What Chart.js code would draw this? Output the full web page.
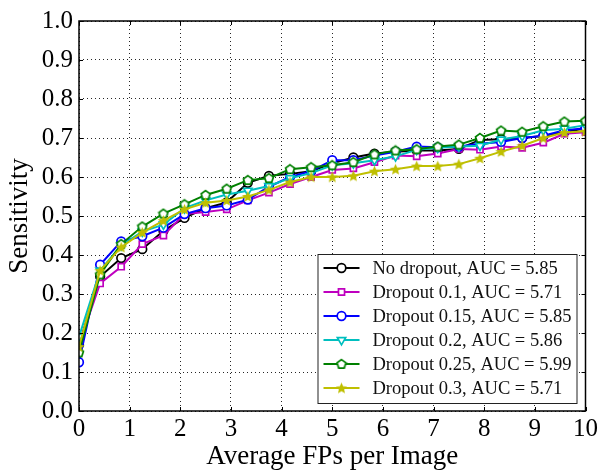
<!DOCTYPE html>
<html>
<head>
<meta charset="utf-8">
<script src="https://cdn.jsdelivr.net/npm/chart.js@4.4.0/dist/chart.umd.min.js"></script>
<style>
  html, body { margin: 0; padding: 0; background: #fff; }
</style>
</head>
<body>
<canvas id="myChart" width="601" height="473"></canvas>
<script>
'use strict';

// average FPs per image (x)
const fpsPerImage = [ 0, 0.417, 0.833, 1.25, 1.667, 2.083, 2.5, 2.917, 3.333, 3.75, 4.167, 4.583, 5,
  5.417, 5.833, 6.25, 6.667, 7.083, 7.5, 7.917, 8.333, 8.75, 9.167, 9.583, 10 ];

const noDropout = [ 0.17, 0.345, 0.392, 0.415, 0.462, 0.495, 0.52, 0.535, 0.585, 0.603, 0.608, 0.615, 0.635,
  0.65, 0.66, 0.665, 0.668, 0.668, 0.672, 0.695, 0.697, 0.70, 0.705, 0.715, 0.725 ];
const dropout01 = [ 0.17, 0.327, 0.37, 0.428, 0.45, 0.505, 0.51, 0.517, 0.54, 0.56, 0.582, 0.60, 0.618,
  0.622, 0.638, 0.655, 0.653, 0.66, 0.672, 0.67, 0.678, 0.675, 0.688, 0.711, 0.715 ];
const dropout015 = [ 0.125, 0.375, 0.435, 0.448, 0.47, 0.505, 0.52, 0.527, 0.542, 0.575, 0.60, 0.615, 0.643,
  0.643, 0.655, 0.665, 0.678, 0.676, 0.678, 0.685, 0.69, 0.70, 0.706, 0.72, 0.725 ];
const dropout02 = [ 0.19, 0.36, 0.425, 0.46, 0.478, 0.52, 0.54, 0.555, 0.565, 0.577, 0.597, 0.61, 0.63,
  0.635, 0.643, 0.653, 0.67, 0.675, 0.678, 0.68, 0.696, 0.705, 0.72, 0.724, 0.733 ];
const dropout025 = [ 0.15, 0.35, 0.428, 0.473, 0.506, 0.53, 0.554, 0.57, 0.592, 0.597, 0.62, 0.625, 0.63,
  0.638, 0.658, 0.668, 0.671, 0.678, 0.683, 0.70, 0.719, 0.716, 0.73, 0.742, 0.744 ];
const dropout03 = [ 0.165, 0.36, 0.42, 0.458, 0.488, 0.517, 0.534, 0.54, 0.55, 0.567, 0.587, 0.60, 0.60,
  0.603, 0.615, 0.62, 0.628, 0.628, 0.633, 0.648, 0.665, 0.68, 0.70, 0.714, 0.717 ];

const seriesLabels = [
  'No dropout, AUC = 5.85',
  'Dropout 0.1, AUC = 5.71',
  'Dropout 0.15, AUC = 5.85',
  'Dropout 0.2, AUC = 5.86',
  'Dropout 0.25, AUC = 5.99',
  'Dropout 0.3, AUC = 5.71'
];

const yTicks = [ 0, 0.1, 0.2, 0.3, 0.4, 0.5, 0.6, 0.7, 0.8, 0.9, 1.0 ];
const xTicks = [ 0, 1, 2, 3, 4, 5, 6, 7, 8, 9, 10 ];

// small canvases for markers chart.js does not have
function makePentagon( color ) {
  const c = document.createElement( 'canvas' );
  c.width = 12; c.height = 12;
  const g = c.getContext( '2d' );
  g.beginPath();
  for ( let i = 0; i < 5; i++ ) {
    const a = -Math.PI / 2 + i * 2 * Math.PI / 5;
    const px = 6 + 4.7 * Math.cos( a );
    const py = 6.3 + 4.7 * Math.sin( a );
    if ( i === 0 ) g.moveTo( px, py ); else g.lineTo( px, py );
  }
  g.closePath();
  g.fillStyle = '#fff';
  g.fill();
  g.lineWidth = 1.7;
  g.strokeStyle = color;
  g.stroke();
  return c;
}

function makeStar( color ) {
  const c = document.createElement( 'canvas' );
  c.width = 13; c.height = 13;
  const g = c.getContext( '2d' );
  g.beginPath();
  for ( let i = 0; i < 10; i++ ) {
    const r = i % 2 === 0 ? 6 : 2.7;
    const a = -Math.PI / 2 + i * Math.PI / 5;
    const px = 6.5 + r * Math.cos( a );
    const py = 7 + r * Math.sin( a );
    if ( i === 0 ) g.moveTo( px, py ); else g.lineTo( px, py );
  }
  g.closePath();
  g.fillStyle = color;
  g.fill();
  return c;
}

function toPoints( ys ) {
  return ys.map( ( y, i ) => ( { x: fpsPerImage[i], y: y } ) );
}

const black = '#000000';
const magenta = '#bf00bf';
const blue = '#0000ff';
const cyan = '#00bfbf';
const green = '#008000';
const yellow = '#bfbf00';

function series( label, ys, color, style, order, extra ) {
  return Object.assign( {
    label: label,
    data: toPoints( ys ),
    borderColor: color,
    backgroundColor: '#ffffff',
    pointBorderColor: color,
    pointBackgroundColor: '#ffffff',
    borderWidth: 2,
    pointStyle: style,
    pointRadius: 4.3,
    pointBorderWidth: 1.7,
    tension: 0,
    order: order
  }, extra || {} );
}

const datasets = [
  series( seriesLabels[0], noDropout, black, 'circle', 6 ),
  series( seriesLabels[1], dropout01, magenta, 'rect', 5 ),
  series( seriesLabels[2], dropout015, blue, 'circle', 4 ),
  series( seriesLabels[3], dropout02, cyan, 'triangle', 3, { pointRotation: 180, pointRadius: 4.8 } ),
  series( seriesLabels[4], dropout025, green, makePentagon( green ), 2 ),
  series( seriesLabels[5], dropout03, yellow, makeStar( yellow ), 1 )
];

// frame around the plot and inward ticks like matplotlib
const framePlugin = {
  id: 'frame',
  afterDraw( chart ) {
    const ctx = chart.ctx;
    const a = chart.chartArea;
    const xs = chart.scales.x;
    const ys = chart.scales.y;
    ctx.save();
    ctx.strokeStyle = '#000';
    ctx.lineWidth = 1;
    ctx.beginPath();
    xTicks.forEach( v => {
      const px = Math.round( xs.getPixelForValue( v ) ) + 0.5;
      ctx.moveTo( px, a.bottom ); ctx.lineTo( px, a.bottom - 4 );
      ctx.moveTo( px, a.top ); ctx.lineTo( px, a.top + 4 );
    } );
    yTicks.forEach( v => {
      const py = Math.round( ys.getPixelForValue( v ) ) + 0.5;
      ctx.moveTo( a.left, py ); ctx.lineTo( a.left + 4, py );
      ctx.moveTo( a.right, py ); ctx.lineTo( a.right - 4, py );
    } );
    ctx.stroke();
    ctx.lineWidth = 1.5;
    ctx.strokeRect( a.left, a.top, a.right - a.left, a.bottom - a.top );
    ctx.restore();
  }
};

const legendPlugin = {
  id: 'boxLegend',
  afterDraw( chart ) {
    const ctx = chart.ctx;
    const a = chart.chartArea;
    const w = 259;
    const h = 149;
    const left = a.right - 9 - w;
    const top = a.bottom - 8 - h;
    ctx.save();
    ctx.fillStyle = '#fff';
    ctx.fillRect( left, top, w, h );
    ctx.strokeStyle = '#222';
    ctx.lineWidth = 1;
    ctx.strokeRect( left + 0.5, top + 0.5, w, h );
    ctx.font = '18.5px "Liberation Serif"';
    ctx.textBaseline = 'middle';
    chart.data.datasets.forEach( ( ds, i ) => {
      const y = top + 14 + i * 24;
      ctx.strokeStyle = ds.borderColor;
      ctx.lineWidth = 2;
      ctx.beginPath();
      ctx.moveTo( left + 6, y );
      ctx.lineTo( left + 42, y );
      ctx.stroke();
      ctx.fillStyle = ds.pointBackgroundColor;
      ctx.strokeStyle = ds.pointBorderColor;
      ctx.lineWidth = ds.pointBorderWidth;
      Chart.helpers.drawPoint( ctx, {
        pointStyle: ds.pointStyle,
        radius: ds.pointRadius,
        rotation: ds.pointRotation || 0,
        borderWidth: ds.pointBorderWidth
      }, left + 24, y );
      ctx.fillStyle = '#111';
      ctx.fillText( ds.label, left + 55, y + 1 );
    } );
    ctx.restore();
  }
};

Chart.defaults.font.family = '"Liberation Serif", serif';
Chart.defaults.color = '#000';

const ctx = document.getElementById( 'myChart' ).getContext( '2d' );
const myChart = new Chart( ctx, {
  type: 'line',
  data: { datasets: datasets },
  options: {
    responsive: false,
    animation: false,
    devicePixelRatio: 1,
    layout: { padding: { top: 16, right: 12, left: 0, bottom: 0 } },
    plugins: {
      legend: { display: false },
      tooltip: { enabled: false }
    },
    scales: {
      x: {
        type: 'linear',
        min: 0,
        max: 10,
        afterFit( scale ) { scale.height = 62; },
        afterBuildTicks( scale ) { scale.ticks = xTicks.map( v => ( { value: v } ) ); },
        ticks: { font: { size: 25 }, padding: 3, maxRotation: 0, callback: v => String( v ) },
        grid: { color: 'rgba(0,0,0,0.85)', lineWidth: 1, drawTicks: false },
        border: { display: false, dash: [ 1, 3 ] },
        title: { display: true, text: 'Average FPs per Image', font: { size: 27 }, padding: { top: 0, bottom: 0 } }
      },
      y: {
        type: 'linear',
        min: 0,
        max: 1,
        afterFit( scale ) { scale.width = 79; },
        afterBuildTicks( scale ) { scale.ticks = yTicks.map( v => ( { value: v } ) ); },
        ticks: { font: { size: 25 }, padding: 6, callback: v => v.toFixed( 1 ) },
        grid: { color: 'rgba(0,0,0,0.85)', lineWidth: 1, drawTicks: false },
        border: { display: false, dash: [ 1, 3 ] },
        title: { display: true, text: 'Sensitivity', font: { size: 27 }, padding: { top: 4, bottom: 0 } }
      }
    }
  },
  plugins: [ framePlugin, legendPlugin ]
} );
</script>
</body>
</html>
